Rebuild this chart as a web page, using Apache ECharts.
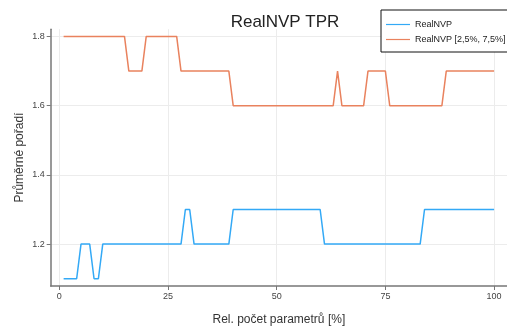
<!DOCTYPE html>
<html>
<head>
<meta charset="utf-8">
<script src="https://cdn.jsdelivr.net/npm/echarts@6/dist/echarts.min.js"></script>
<style>
html,body{margin:0;padding:0;background:#fff;}
#c{width:507px;height:331px;}
</style>
</head>
<body>
<div id="c"></div>
<script>
// Data (x = relative parameter count in %, 1..100)
const xValues = [
  1,2,3,4,5,6,7,8,9,10,
  11,12,13,14,15,16,17,18,19,20,
  21,22,23,24,25,26,27,28,29,30,
  31,32,33,34,35,36,37,38,39,40,
  41,42,43,44,45,46,47,48,49,50,
  51,52,53,54,55,56,57,58,59,60,
  61,62,63,64,65,66,67,68,69,70,
  71,72,73,74,75,76,77,78,79,80,
  81,82,83,84,85,86,87,88,89,90,
  91,92,93,94,95,96,97,98,99,100
];
const realNVP = [
  1.1,1.1,1.1,1.1,1.2,1.2,1.2,1.1,1.1,1.2,
  1.2,1.2,1.2,1.2,1.2,1.2,1.2,1.2,1.2,1.2,
  1.2,1.2,1.2,1.2,1.2,1.2,1.2,1.2,1.3,1.3,
  1.2,1.2,1.2,1.2,1.2,1.2,1.2,1.2,1.2,1.3,
  1.3,1.3,1.3,1.3,1.3,1.3,1.3,1.3,1.3,1.3,
  1.3,1.3,1.3,1.3,1.3,1.3,1.3,1.3,1.3,1.3,
  1.2,1.2,1.2,1.2,1.2,1.2,1.2,1.2,1.2,1.2,
  1.2,1.2,1.2,1.2,1.2,1.2,1.2,1.2,1.2,1.2,
  1.2,1.2,1.2,1.3,1.3,1.3,1.3,1.3,1.3,1.3,
  1.3,1.3,1.3,1.3,1.3,1.3,1.3,1.3,1.3,1.3
];
const realNVPRange = [
  1.8,1.8,1.8,1.8,1.8,1.8,1.8,1.8,1.8,1.8,
  1.8,1.8,1.8,1.8,1.8,1.7,1.7,1.7,1.7,1.8,
  1.8,1.8,1.8,1.8,1.8,1.8,1.8,1.7,1.7,1.7,
  1.7,1.7,1.7,1.7,1.7,1.7,1.7,1.7,1.7,1.6,
  1.6,1.6,1.6,1.6,1.6,1.6,1.6,1.6,1.6,1.6,
  1.6,1.6,1.6,1.6,1.6,1.6,1.6,1.6,1.6,1.6,
  1.6,1.6,1.6,1.7,1.6,1.6,1.6,1.6,1.6,1.6,
  1.7,1.7,1.7,1.7,1.7,1.6,1.6,1.6,1.6,1.6,
  1.6,1.6,1.6,1.6,1.6,1.6,1.6,1.6,1.7,1.7,
  1.7,1.7,1.7,1.7,1.7,1.7,1.7,1.7,1.7,1.7
];
const seriesNames = ['RealNVP', 'RealNVP [2,5%, 7,5%]'];
const xTicks = [0, 25, 50, 75, 100];
const yTicks = [1.2, 1.4, 1.6, 1.8];
const titleText = 'RealNVP TPR';
const xName = 'Rel. počet parametrů [%]';
const yName = 'Průměrné pořadí';

const FONT = '"Liberation Sans", Arial, sans-serif';
const BLUE = '#33a9f6';
const ORANGE = '#e9825e';
const pairs = (ys) => xValues.map((x, i) => [x, ys[i]]);

const chart = echarts.init(document.getElementById('c'), null, {renderer: 'canvas'});
chart.setOption({
  animation: false,
  backgroundColor: '#ffffff',
  title: {
    text: titleText,
    left: 280, top: 9, textAlign: 'center',
    textStyle: {fontFamily: FONT, fontSize: 17, fontWeight: 'normal', color: '#222'}
  },
  legend: {
    orient: 'vertical',
    left: 381, top: 10,
    padding: [10, 3, 8, 5],
    itemGap: 6,
    itemWidth: 24, itemHeight: 10,
    icon: 'path://M0,4.4 L24,4.4 L24,5.6 L0,5.6 Z',
    borderColor: '#111', borderWidth: 1,
    backgroundColor: '#fff',
    textStyle: {fontFamily: FONT, fontSize: 9, color: '#222'},
    data: seriesNames
  },
  grid: {left: 50.7, top: 29.2, width: 458.6, height: 260.2, containLabel: false},
  xAxis: {
    type: 'value', min: -1.97, max: 102.97,
    name: xName, nameLocation: 'middle', nameGap: 28, nameMoveOverlap: false,
    nameTextStyle: {fontFamily: FONT, fontSize: 12, color: '#333'},
    axisLine: {show: true, onZero: false, lineStyle: {color: '#777', width: 1.5}},
    axisTick: {show: true, customValues: xTicks, length: 4, lineStyle: {color: '#777', width: 1}},
    axisLabel: {customValues: xTicks, margin: 6, fontFamily: FONT, fontSize: 9, color: '#444'},
    splitLine: {show: true, lineStyle: {color: '#ececec', width: 1}}
  },
  yAxis: {
    type: 'value', min: 1.079, max: 1.821,
    name: yName, nameLocation: 'middle', nameGap: 25, nameRotate: 90, nameMoveOverlap: false,
    nameTextStyle: {fontFamily: FONT, fontSize: 12, color: '#333'},
    axisLine: {show: true, onZero: false, lineStyle: {color: '#777', width: 1.5}},
    axisTick: {show: true, customValues: yTicks, length: 4, lineStyle: {color: '#777', width: 1}},
    axisLabel: {customValues: yTicks, margin: 6, fontFamily: FONT, fontSize: 9, color: '#444',
      formatter: (v) => Number(v).toFixed(1)},
    splitLine: {show: true, lineStyle: {color: '#ececec', width: 1}}
  },
  series: [
    {name: seriesNames[0], type: 'line', data: pairs(realNVP), symbol: 'none',
     color: BLUE, lineStyle: {width: 1.5, color: BLUE}},
    {name: seriesNames[1], type: 'line', data: pairs(realNVPRange), symbol: 'none',
     color: ORANGE, lineStyle: {width: 1.5, color: ORANGE}}
  ]
});
</script>
</body>
</html>
